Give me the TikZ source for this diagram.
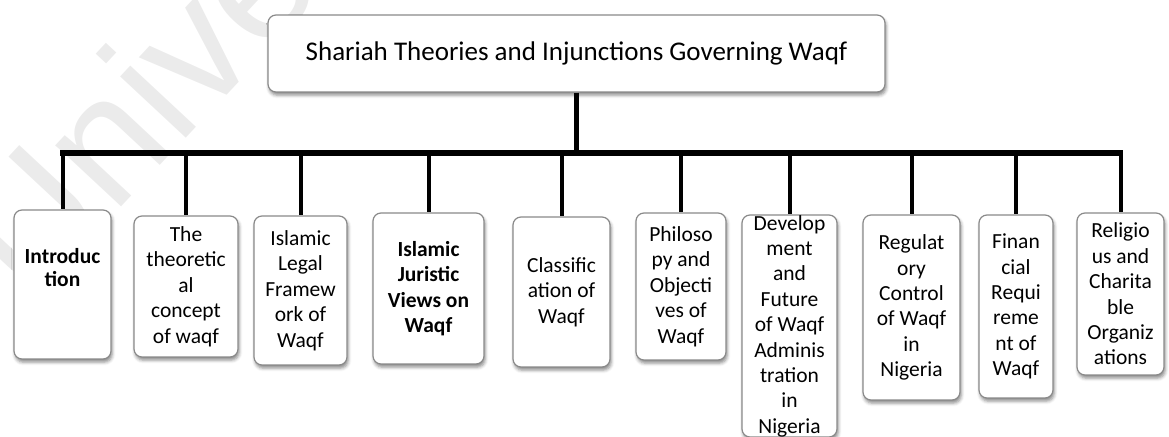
\documentclass[tikz,border=0pt]{standalone}
\usepackage{fontspec}
\setmainfont{Carlito}
\newfontfamily\wmfam{Liberation Sans}
\usetikzlibrary{shadows.blur}
\definecolor{boxline}{HTML}{8A8A8A}
\definecolor{wmgray}{HTML}{EBEBEB}
\newcommand{\boxfont}{\fontsize{10.75pt}{12.6pt}\selectfont}
% line break that keeps the full line pitch of the boxes
\newcommand{\nl}{\\[0.1pt]}
\tikzset{
  softshadow/.style={blur shadow={shadow xshift=0.6pt, shadow yshift=-1.6pt,
      shadow blur radius=1.6pt, shadow opacity=45}},
  topicbox/.style={draw=boxline, line width=0.6pt, rounded corners=4pt, fill=white,
      align=flush center, inner sep=0pt, font=\boxfont, softshadow},
  headbox/.style={topicbox, font=\fontsize{13.5pt}{16pt}\selectfont},
  % width and height of a box, in pt
  sized/.style 2 args={minimum width=#1, text width=#1, minimum height=#2},
  trunk/.style={line width=2.4pt, black},
  busline/.style={line width=2.7pt, black, line cap=rect},
  branch/.style={line width=2pt, black},
  watermark/.style={font=\wmfam\fontsize{85pt}{85pt}\selectfont, text=wmgray,
      rotate=47, anchor=base west, inner sep=0pt},
}
\begin{document}
\begin{tikzpicture}[x=0.5pt,y=-0.5pt]
\clip (0,0) rectangle (1169,437);

% faint background watermark
\node[watermark] (wm) at (30,306) {Unive};

% heading
\node[headbox, sized={308.5pt}{38.5pt}] (title) at (576.5,53.5)
  {Shariah Theories and Injunctions Governing Waqf};

% topic boxes
\node[topicbox, sized={48.5pt}{74.5pt}, font=\boxfont\bfseries] (b1) at (62.5,284.5)
  {Introduc\\[-0.95pt]tion\\\rule[-4.75pt]{0pt}{0pt}};
\node[topicbox, sized={52pt}{70.5pt}] (b2) at (186,286.5)
  {The\nl theoretic\nl al\nl concept\nl of waqf};
\node[topicbox, sized={46.5pt}{74.5pt}] (b3) at (300.5,290.5)
  {Islamic\nl Legal\nl Framew\nl ork of\nl Waqf};
\node[topicbox, sized={55.5pt}{75.5pt}, font=\boxfont\bfseries] (b4) at (428.5,288.5)
  {Islamic\nl Juristic\nl Views on\nl Waqf};
\node[topicbox, sized={48.5pt}{75pt}] (b5) at (561.5,292)
  {Classific\nl ation of\nl Waqf};
\node[topicbox, sized={45pt}{73.5pt}] (b6) at (681,286.5)
  {Philoso\nl py and\nl Objecti\nl ves of\nl Waqf};
\node[topicbox, sized={47.5pt}{111pt}] (b7) at (789.5,326)
  {Develop\nl ment\nl and\nl Future\nl of Waqf\nl Adminis\nl tration\nl in\nl Nigeria};
\node[topicbox, sized={48.5pt}{92.5pt}] (b8) at (911.5,307.5)
  {Regulat\nl ory\nl Control\nl of Waqf\nl in\nl Nigeria};
\node[topicbox, sized={37pt}{91.5pt}] (b9) at (1016,306.5)
  {Finan\nl cial\nl Requi\nl reme\nl nt of\nl Waqf};
\node[topicbox, sized={43.5pt}{81pt}] (b10) at (1120.5,294)
  {Religio\nl us and\nl Charita\nl ble\nl Organiz\nl ations};

% connectors
\coordinate (bus) at (0,153);
\draw[trunk] (title.south) -- (title.south |- bus);
\draw[busline] (b1.north |- bus) -- (b10.north |- bus);
\foreach \i in {1,...,10}
  \draw[branch] (b\i.north |- bus) -- (b\i.north);
\end{tikzpicture}
\end{document}
